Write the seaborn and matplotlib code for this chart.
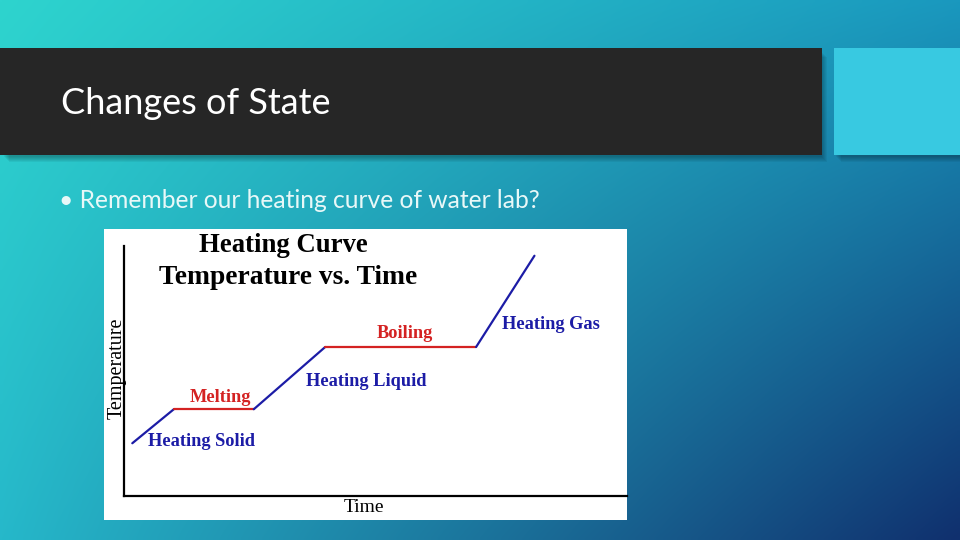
import numpy as np
import pandas as pd
import matplotlib
matplotlib.use("Agg")
import matplotlib.pyplot as plt
from matplotlib.patches import Rectangle
from matplotlib.colors import to_rgb
import seaborn as sns

# heating curve corner points (time, temperature in arbitrary units)
time = [1.65, 9.9, 25.8, 40.0, 70.0, 81.6]
temperature = [21.1, 34.7, 34.7, 59.6, 59.6, 96.1]
segments = ["Heating Solid", "Melting", "Heating Liquid", "Boiling", "Heating Gas"]
seg_colors = ["#1c1ca6", "#d42222", "#1c1ca6", "#d42222", "#1c1ca6"]

# label anchor points (left edge, vertical centre) for each segment
label_x = [4.8, 13.1, 36.2, 50.3, 75.1]
label_y = [22.0, 39.6, 46.0, 64.8, 68.4]

slide_title = "Changes of State"
bullet = "\u2022 Remember our heating curve of water lab?"

sns.set_theme(style="white")
plt.rcParams["font.family"] = ["Lato", "DejaVu Sans"]

fig = plt.figure(figsize=(9.6, 5.4), dpi=100)

# slide background (pixel coordinates)
bg = fig.add_axes([0, 0, 1, 1])
bg.set_xlim(0, 960)
bg.set_ylim(540, 0)
bg.axis("off")

tl, tr = np.array(to_rgb("#2ed4ce")), np.array(to_rgb("#1a98be"))
bl, br = np.array(to_rgb("#26b8ca")), np.array(to_rgb("#10306e"))
u = np.linspace(0, 1, 240)[None, :, None]
v = np.linspace(0, 1, 135)[:, None, None]
grad = (1 - u) * (1 - v) * tl + u * (1 - v) * tr + (1 - u) * v * bl + u * v * br
bg.imshow(grad, extent=[0, 960, 540, 0], aspect="auto", interpolation="bilinear", zorder=0)

# soft shadows under the header shapes
for i in range(6):
    bg.add_patch(Rectangle((4 + i, 52 + i), 818, 105, color="black", alpha=0.05, lw=0, zorder=1))
    bg.add_patch(Rectangle((836 + i, 52 + i), 124, 105, color="black", alpha=0.05, lw=0, zorder=1))
bg.add_patch(Rectangle((0, 48), 822, 107, color="#262626", lw=0, zorder=2))
bg.add_patch(Rectangle((834, 48), 126, 107, color="#38c9e1", lw=0, zorder=2))
bg.add_patch(Rectangle((104, 229), 523, 291, color="white", lw=0, zorder=2))

bg.text(61, 103, slide_title, color="white", fontsize=26, va="center", ha="left", zorder=3)
bg.text(59, 201, bullet, color="#e8f8f8", fontsize=17.7, va="center", ha="left", zorder=3)

serif = ["Liberation Serif", "DejaVu Serif"]
bg.text(283, 246, "Heating Curve", family=serif, fontweight="bold", fontsize=19.3,
        ha="center", va="center", color="black", zorder=3)
bg.text(288, 277, "Temperature vs. Time", family=serif, fontweight="bold", fontsize=19.8,
        ha="center", va="center", color="black", zorder=3)
bg.text(364, 508, "Time", family=serif, fontsize=14, ha="center", va="center", color="black", zorder=3)
bg.text(117, 368, "Temperature", family=serif, fontsize=14.5, rotation=90,
        ha="center", va="center", color="black", zorder=3)

# the curve itself
ax = fig.add_axes([124 / 960, 44 / 540, 503 / 960, 250 / 540])
ax.patch.set_alpha(0)
rows = []
for i, seg in enumerate(segments):
    rows.append({"segment": seg, "time": time[i], "temperature": temperature[i]})
    rows.append({"segment": seg, "time": time[i + 1], "temperature": temperature[i + 1]})
df = pd.DataFrame(rows)
sns.lineplot(data=df, x="time", y="temperature", hue="segment", hue_order=segments,
             palette=dict(zip(segments, seg_colors)), estimator=None, sort=False,
             legend=False, linewidth=1.6, ax=ax)

for seg, c, lx, ly in zip(segments, seg_colors, label_x, label_y):
    ax.text(lx, ly, seg, family=serif, fontweight="bold", fontsize=13.2, color=c,
            ha="left", va="center")

ax.set_xlim(0, 100)
ax.set_ylim(0, 100)
ax.set_xlabel("")
ax.set_ylabel("")
ax.set_xticks([])
ax.set_yticks([])
for side in ["top", "right"]:
    ax.spines[side].set_visible(False)
for side in ["left", "bottom"]:
    ax.spines[side].set_color("black")
    ax.spines[side].set_linewidth(1.6)

fig.savefig("out.png", dpi=100)
